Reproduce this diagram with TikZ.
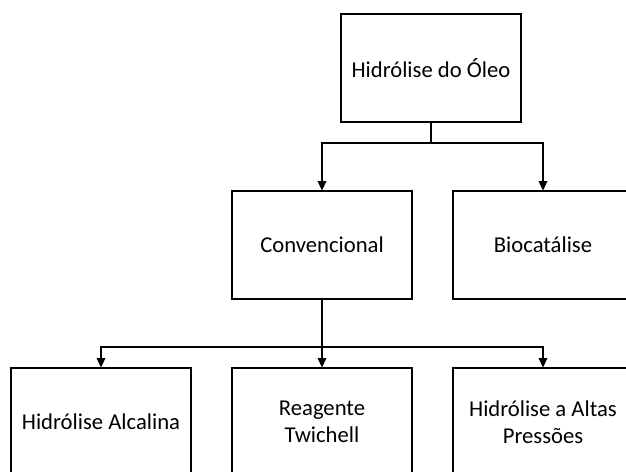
\documentclass[tikz,border=0pt]{standalone}
\usepackage{fontspec}
\setmainfont{Carlito}
\usetikzlibrary{arrows.meta}

\begin{document}
\begin{tikzpicture}[x=0.75pt,y=-0.75pt,
  box/.style={draw, line width=0.8pt, minimum width=135pt, minimum height=81pt,
    align=center, inner sep=2pt, font=\fontsize{17}{20.25}\selectfont},
  link/.style={line width=0.8pt},
  arr/.style={link, -{Triangle[width=6.5pt,length=7pt]}}]
  \useasboundingbox (0,0) rectangle (626,472);
  \clip (0,0) rectangle (626,472);

  % process tree
  \node[box] (top)  at (431,68)  {Hidrólise do Óleo};
  \node[box] (conv) at (322,245) {Convencional};
  \node[box] (bio)  at (543,245) {Biocatálise};
  \node[box] (alc)  at (101,422) {Hidrólise Alcalina};
  \node[box] (reag) at (322,422) {Reagente\\Twichell};
  \node[box] (alt)  at (543,422) {Hidrólise a Altas\\Pressões};

  % branch points
  \coordinate (j1) at (431,143);
  \coordinate (j2) at (322,347);

  \draw[link] (top.south) -- (j1);
  \draw[arr] (j1) -| (conv.north);
  \draw[arr] (j1) -| (bio.north);

  \draw[arr] (conv.south) -- (reag.north);
  \draw[arr] (j2) -| (alc.north);
  \draw[arr] (j2) -| (alt.north);
\end{tikzpicture}
\end{document}
